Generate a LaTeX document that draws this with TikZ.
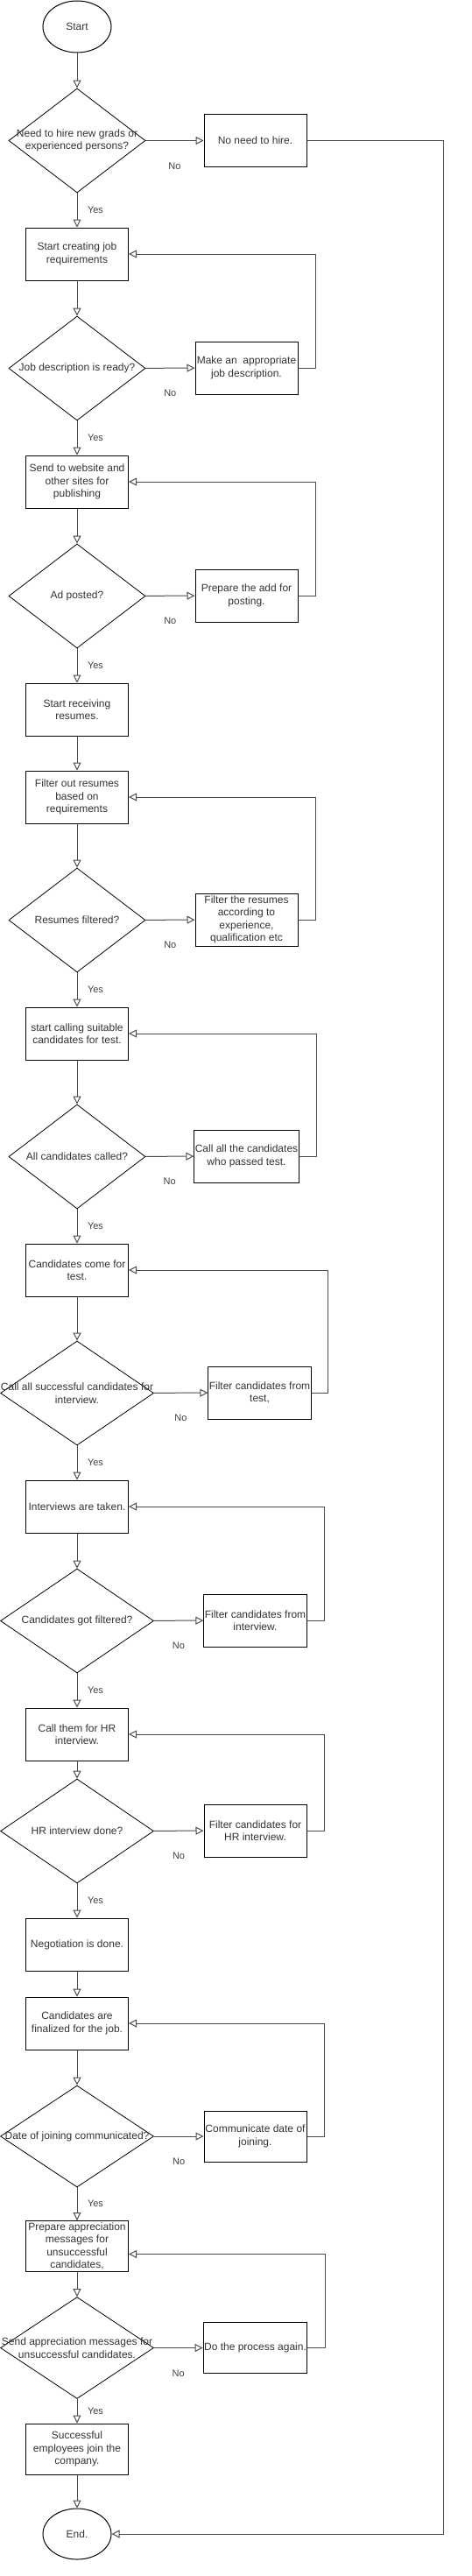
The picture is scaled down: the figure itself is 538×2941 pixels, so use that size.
\documentclass[tikz,border=0pt]{standalone}
\usepackage{fontspec}
\setmainfont{Liberation Sans}
\usetikzlibrary{shapes.geometric,arrows.meta}

\tikzset{
    box/.style={draw=black, line width=1pt, minimum width=117pt, minimum height=60pt,
        inner sep=1pt, align=center, text=black!80, font=\fontsize{12}{14.4}\selectfont},
    terminal/.style={ellipse, draw=black, line width=1pt, minimum width=78pt,
        minimum height=59pt, text=black!80, font=\fontsize{12}{14.4}\selectfont},
    decision/.style={diamond, draw=black, line width=0.8pt, minimum width=156pt,
        minimum height=119pt, inner sep=0pt},
    wide/.style={minimum width=175pt},
    qtext/.style={align=center, text=black!80, font=\fontsize{12}{14.4}\selectfont},
    conn/.style={draw=black!70, line width=1pt, -{Triangle[open, length=9pt, width=9pt]}},
    yeslabel/.style={midway, xshift=21pt, text=black!75, font=\fontsize{11}{13}\selectfont},
    nolabel/.style={midway, yshift=-29pt, text=black!75, font=\fontsize{11}{13}\selectfont}
}

\begin{document}
\begin{tikzpicture}[x=1pt, y=-1pt]
            \useasboundingbox (0,0) rectangle (538,2941);

            % main column
            \node[terminal] (start) at (88,30.5) {Start};
            \node[decision, label={[qtext]center:{Need to hire new grads or\\experienced persons?}}] (d1) at (88,160.5) {};
            \node[box] (b1) at (88,290) {Start creating job\\requirements};
            \node[decision, label={[qtext]center:Job description is ready?}] (d2) at (88,420.5) {};
            \node[box] (b2) at (88,550) {Send to website and\\other sites for\\publishing};
            \node[decision, label={[qtext]center:Ad posted?}] (d3) at (88,680.5) {};
            \node[box] (b3) at (88,810) {Start receiving\\resumes.};
            \node[box] (b4) at (88,910) {Filter out resumes\\based on\\requirements};
            \node[decision, label={[qtext]center:Resumes filtered?}] (d4) at (88,1050.5) {};
            \node[box] (b5) at (88,1180) {start calling suitable\\candidates for test.};
            \node[decision, label={[qtext]center:All candidates called?}] (d5) at (88,1320.5) {};
            \node[box] (b6) at (88,1450) {Candidates come for\\test.};
            \node[decision, wide, label={[qtext]center:{Call all successful candidates for\\interview.}}] (d6) at (88,1590.5) {};
            \node[box] (b7) at (88,1720) {Interviews are taken.};
            \node[decision, wide, label={[qtext]center:Candidates got filtered?}] (d7) at (88,1850.5) {};
            \node[box] (b8) at (88,1980) {Call them for HR\\interview.};
            \node[decision, wide, label={[qtext]center:HR interview done?}] (d8) at (88,2090.5) {};
            \node[box] (b9) at (88,2220) {Negotiation is done.};
            \node[box] (b10) at (88,2310) {Candidates are\\finalized for the job.};
            \node[decision, wide, minimum height=116pt, label={[qtext]center:Date of joining communicated?}] (d9) at (88,2439) {};
            \node[box, minimum height=58pt] (b11) at (88,2564.5) {Prepare appreciation\\messages for\\unsuccessful\\candidates,};
            \node[decision, wide, minimum height=116pt, label={[qtext]center:{Send appreciation messages for\\unsuccessful candidates.}}] (d10) at (88,2680.5) {};
            \node[box, minimum height=58pt] (b12) at (88,2796) {Successful\\employees join the\\company.};
            \node[terminal, minimum height=58pt] (end) at (88,2893) {End.};

            % side boxes
            \node[box] (f1) at (291.5,160.5) {No need to hire.};
            \node[box] (f2) at (281.5,420) {Make an\ \ appropriate\\job description.};
            \node[box] (f3) at (281.5,680) {Prepare the add for\\posting.};
            \node[box] (f4) at (281.5,1050) {Filter the resumes\\according to\\experience,\\qualification etc};
            \node[box] (f5) at (281.5,1320) {Call all the candidates\\who passed test.};
            \node[box] (f6) at (296.5,1590) {Filter candidates from\\test,};
            \node[box] (f7) at (291.5,1850) {Filter candidates from\\interview.};
            \node[box] (f8) at (291.5,2090) {Filter candidates for\\HR interview.};
            \node[box, minimum height=58pt] (f9) at (291.5,2439) {Communicate date of\\joining.};
            \node[box, minimum height=58pt] (f10) at (291.5,2680.5) {Do the process again.};

            % down the column
            \draw[conn] (start) -- (d1);
            \draw[conn] (d1) -- node[yeslabel] {Yes} (b1);
            \draw[conn] (b1) -- (d2);
            \draw[conn] (d2) -- node[yeslabel] {Yes} (b2);
            \draw[conn] (b2) -- (d3);
            \draw[conn] (d3) -- node[yeslabel] {Yes} (b3);
            \draw[conn] (b3) -- (b4);
            \draw[conn] (b4) -- (d4);
            \draw[conn] (d4) -- node[yeslabel] {Yes} (b5);
            \draw[conn] (b5) -- (d5);
            \draw[conn] (d5) -- node[yeslabel] {Yes} (b6);
            \draw[conn] (b6) -- (d6);
            \draw[conn] (d6) -- node[yeslabel] {Yes} (b7);
            \draw[conn] (b7) -- (d7);
            \draw[conn] (d7) -- node[yeslabel] {Yes} (b8);
            \draw[conn] (b8) -- (d8);
            \draw[conn] (d8) -- node[yeslabel] {Yes} (b9);
            \draw[conn] (b9) -- (b10);
            \draw[conn] (b10) -- (d9);
            \draw[conn] (d9) -- node[yeslabel] {Yes} (b11);
            \draw[conn] (b11) -- (d10);
            \draw[conn] (d10) -- node[yeslabel] {Yes} (b12);
            \draw[conn] (b12) -- (end);

            % "No" branches
            \draw[conn] (d1) -- node[nolabel] {No} (f1);
            \draw[conn] (d2) -- node[nolabel] {No} (f2);
            \draw[conn] (d3) -- node[nolabel] {No} (f3);
            \draw[conn] (d4) -- node[nolabel] {No} (f4);
            \draw[conn] (d5) -- node[nolabel] {No} (f5);
            \draw[conn] (d6) -- node[nolabel] {No} (f6);
            \draw[conn] (d7) -- node[nolabel] {No} (f7);
            \draw[conn] (d8) -- node[nolabel] {No} (f8);
            \draw[conn] (d9) -- node[nolabel] {No} (f9);
            \draw[conn] (d10) -- node[nolabel] {No} (f10);

            % loops back
            \draw[conn] (f2.east) -- ++(20,0) |- (b1.east);
            \draw[conn] (f3.east) -- ++(20,0) |- (b2.east);
            \draw[conn] (f4.east) -- ++(20,0) |- (b4.east);
            \draw[conn] (f5.east) -- ++(20,0) |- (b5.east);
            \draw[conn] (f6.east) -- ++(19,0) |- (b6.east);
            \draw[conn] (f7.east) -- ++(20,0) |- (b7.east);
            \draw[conn] (f8.east) -- ++(20,0) |- (b8.east);
            \draw[conn] (f9.east) -- ++(20,0) |- (b10.east);
            \draw[conn] (f10.east) -- ++(20,0) |- ([yshift=-9pt]b11.east);
            \draw[conn] (f1.east) -- ++(156,0) |- (end.east);
        \end{tikzpicture}
\end{document}
